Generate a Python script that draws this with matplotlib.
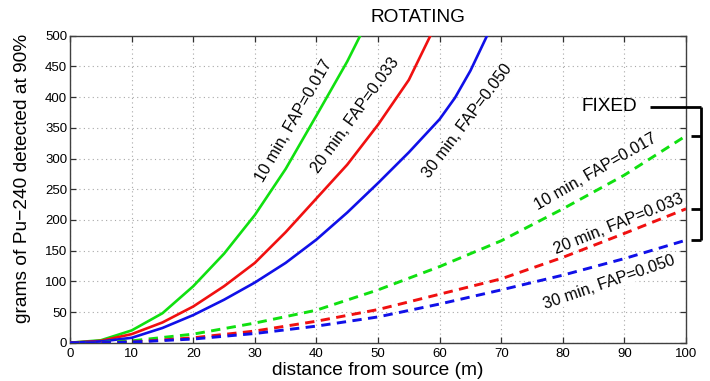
import matplotlib

matplotlib.use("Agg")
import matplotlib.pyplot as plt

# rotating detector: solid curves
rot_10_x = [0, 5, 10, 15, 20, 25, 30, 35, 40, 45, 47.1]
rot_10_y = [0, 4, 20, 48, 92, 145, 208, 283, 370, 458, 500]
rot_20_x = [0, 5, 10, 15, 20, 25, 30, 35, 40, 45, 50, 55, 58.5]
rot_20_y = [0, 3, 14, 33, 59, 92, 130, 180, 235, 290, 355, 428, 500]
rot_30_x = [0, 5, 10, 15, 20, 25, 30, 35, 40, 45, 50, 55, 60, 62.5, 65, 67.7]
rot_30_y = [0, 2, 8, 24, 45, 70, 98, 130, 168, 212, 260, 310, 364, 399, 443, 500]

# fixed detector: dashed curves
fix_x = [0, 5, 10, 20, 30, 40, 50, 60, 70, 80, 90, 100]
fix_10_y = [0, 0.3, 3, 14, 32, 53, 86, 124, 166, 218, 273, 337]
fix_20_y = [0, 0.2, 1, 8, 19, 35, 54, 79, 104, 139, 178, 218]
fix_30_y = [0, 0.1, 1, 6, 15, 27, 42, 63, 86, 110, 137, 167]

labels = ["10 min, FAP=0.017", "20 min, FAP=0.033", "30 min, FAP=0.050"]
colors = ["#10e010", "#f01010", "#1010e8"]

rot_series = [(rot_10_x, rot_10_y), (rot_20_x, rot_20_y), (rot_30_x, rot_30_y)]
fix_series = [fix_10_y, fix_20_y, fix_30_y]

# label placement (data coords, rotation in screen degrees)
rot_label_pos = [(36.3, 362, 60), (46.4, 371, 54), (64.5, 362, 53)]
fix_label_pos = [(85.3, 278, 30), (89.0, 193, 22), (87.6, 99, 19)]

plt.rcParams["font.family"] = ["Liberation Sans", "DejaVu Sans"]

fig = plt.figure(figsize=(7.1, 3.81), dpi=100)
ax = fig.add_axes([0.0987, 0.1005, 0.8675, 0.8058])

for (xs, ys), c in zip(rot_series, colors):
    ax.plot(xs, ys, color=c, linewidth=1.9, zorder=3)
for ys, c in zip(fix_series, colors):
    ax.plot(fix_x, ys, color=c, linewidth=2.1, dashes=(3.2, 2.2), zorder=3)

box = dict(facecolor="white", edgecolor="none", pad=0.5)
for (x, y, r), text in zip(rot_label_pos, labels):
    ax.text(x, y, text, rotation=r, rotation_mode="anchor", ha="center", va="center",
            fontsize=11.6, bbox=box, zorder=4, clip_on=False)
for (x, y, r), text in zip(fix_label_pos, labels):
    ax.text(x, y, text, rotation=r, rotation_mode="anchor", ha="center", va="center",
            fontsize=11.6, bbox=box, zorder=4, clip_on=False)

ax.set_xlim(0, 100)
ax.set_ylim(0, 500)
ax.set_xticks(range(0, 101, 10))
ax.set_yticks(range(0, 501, 50))
ax.tick_params(direction="in", top=True, right=True, length=4.5, width=0.9,
               labelsize=9.5, colors="#303030", labelcolor="black")
ax.tick_params(axis="x", pad=4)
ax.tick_params(axis="y", pad=2)
ax.grid(True, linestyle=(0, (1, 3)), color="#a8a8a8", linewidth=0.8)
ax.set_axisbelow(True)
for s in ax.spines.values():
    s.set_color("#404040")
    s.set_linewidth(1.0)

ax.set_xlabel("distance from source (m)", fontsize=13.8, labelpad=1)
ax.set_ylabel("grams of Pu\u2212240 detected at 90%", fontsize=13.8, labelpad=2)
ax.yaxis.set_label_coords(-0.063, 0.535)

ax.text(56.5, 529, "ROTATING", fontsize=13.7, ha="center", va="center", clip_on=False)

# bracket for the fixed curves
bracket_top = 384
ends = [ys[-1] for ys in fix_series]
ax.text(87.5, bracket_top + 1, "FIXED", fontsize=13.7, ha="center", va="center", clip_on=False)
bk = dict(color="black", linewidth=2.0, clip_on=False, zorder=5, solid_capstyle="butt")
ax.plot([94.1, 102.5], [bracket_top, bracket_top], **bk)
ax.plot([102.5, 102.5], [bracket_top, min(ends)], **bk)
for e in ends:
    ax.plot([100.8, 102.5], [e, e], **bk)

fig.savefig("out.png", dpi=100)
